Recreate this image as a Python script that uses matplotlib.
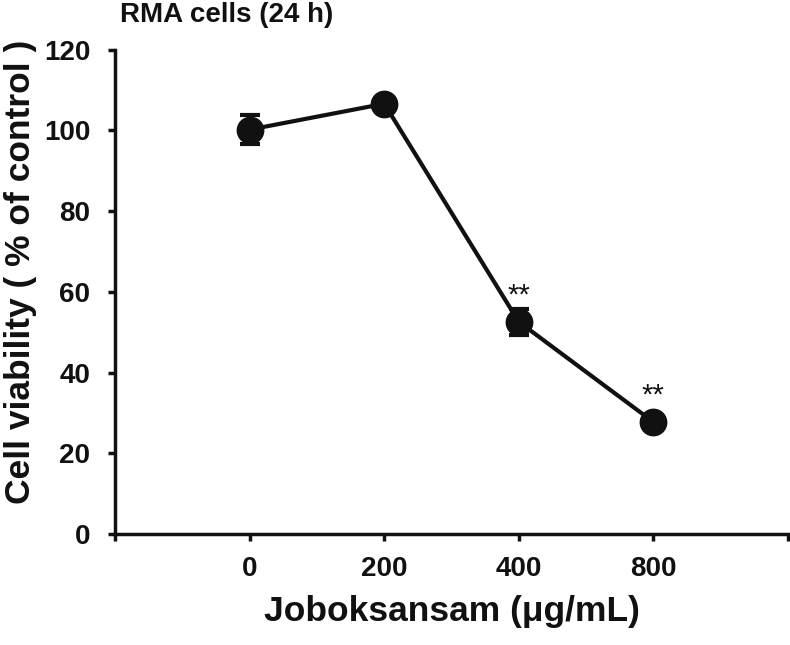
import numpy as np
import matplotlib.pyplot as plt

# Datos
doses = ['0', '200', '400', '800']
viability = [100.2, 106.6, 52.6, 27.8]
errors = [3.5, 1.0, 3.2, 1.0]
stars = ['', '', '**', '**']

plt.rcParams['font.family'] = ['Liberation Sans', 'DejaVu Sans']
plt.rcParams['font.weight'] = 'bold'

fig = plt.figure(figsize=(7.9, 6.45), dpi=100)
ax = fig.add_axes([0.146, 0.172, 0.851, 0.751])

x = np.arange(len(doses))
ax.errorbar(x, viability, yerr=errors, color='#111111', marker='o', markersize=19,
            linewidth=3, elinewidth=3, capsize=7, capthick=3, zorder=3)

# Asteriscos de significancia
for xi, yi, s in zip(x, viability, stars):
    if s:
        ax.text(xi, yi + 6.6, s, ha='center', va='center', fontsize=21,
                fontweight='normal', color='#111111')

ax.set_xlim(-1, 4)
ax.set_ylim(0, 120)
ax.set_xticks(np.arange(-1, 5))
ax.set_xticklabels([''] + doses + [''])
ax.set_yticks(np.arange(0, 121, 20))

for side in ['top', 'right']:
    ax.spines[side].set_visible(False)
for side in ['left', 'bottom']:
    ax.spines[side].set_linewidth(2.5)
    ax.spines[side].set_color('#111111')

ax.tick_params(axis='both', direction='out', length=5, width=2.5, color='#111111',
               labelsize=20, labelcolor='#111111')
ax.tick_params(axis='x', pad=11)
ax.tick_params(axis='y', pad=13)
for lab in ax.get_xticklabels() + ax.get_yticklabels():
    lab.set_fontweight('bold')

ax.set_xlabel('Joboksansam (\u03bcg/mL)', fontsize=25.5, fontweight='bold',
              color='#111111', labelpad=9)
# etiqueta Y un poco por encima del centro, como en el original
fig.text(0.026, 0.578, 'Cell viability ( % of control )', fontsize=25.5,
         fontweight='bold', color='#111111', rotation=90, ha='center', va='center')
fig.text(0.152, 0.976, 'RMA cells (24 h)', fontsize=20, fontweight='bold',
         color='#111111', ha='left', va='center')

fig.savefig('out.png', dpi=100)
